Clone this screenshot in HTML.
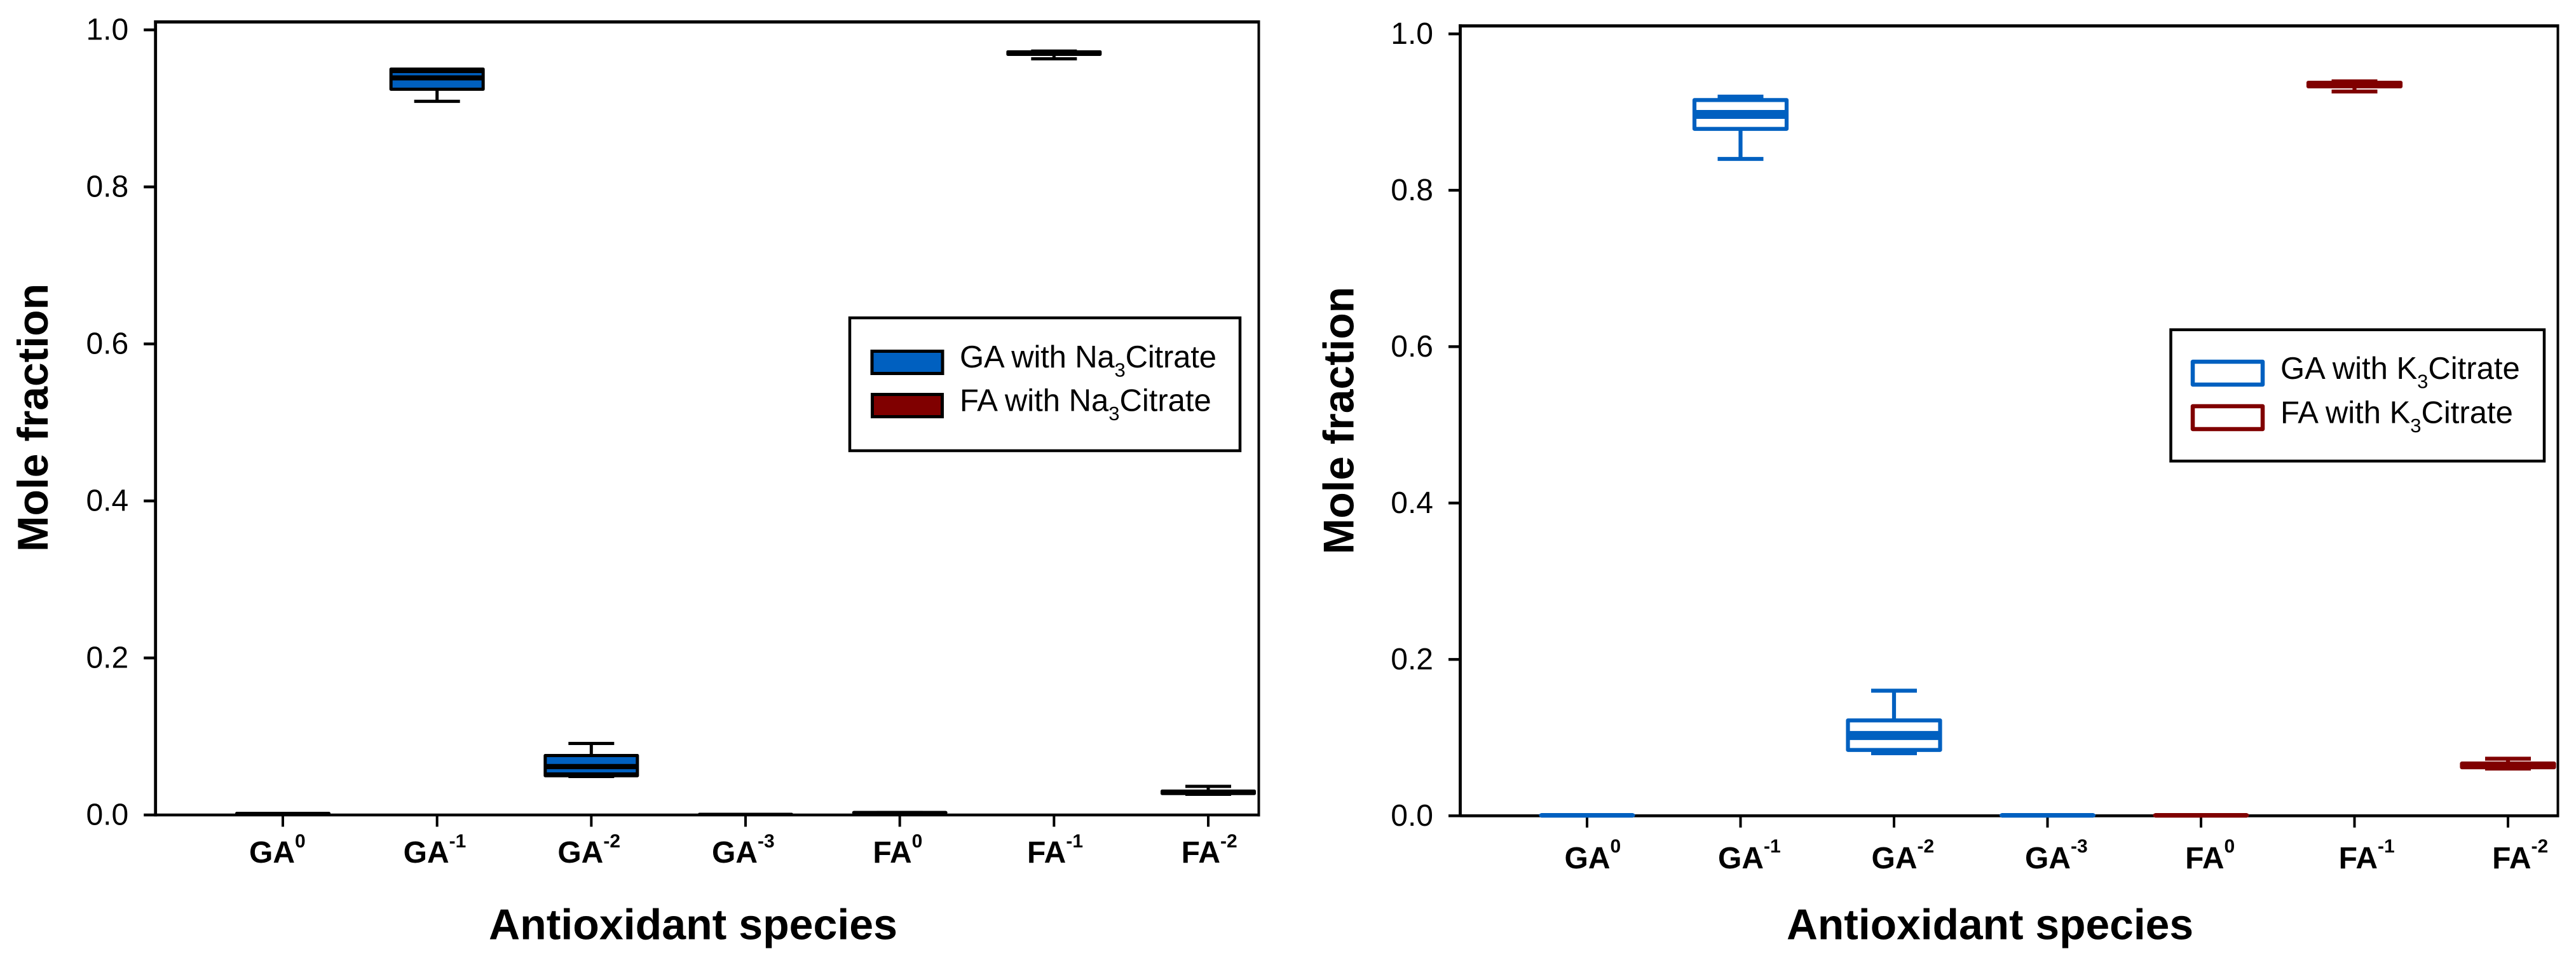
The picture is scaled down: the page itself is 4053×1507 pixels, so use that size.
<!DOCTYPE html>
<html lang="en">
<head>
<meta charset="utf-8">
<title>Mole fraction of antioxidant species</title>
<style>
html,body{margin:0;padding:0;background:#fff;}
svg{display:block;font-family:"Liberation Sans",Arial,sans-serif;}
</style>
</head>
<body>
<svg id="figure" xmlns="http://www.w3.org/2000/svg" width="4053" height="1507" viewBox="0 0 4053 1507">
  <rect x="0" y="0" width="4053" height="1507" fill="#fff"/>

  <g id="panel-left"></g>
  <g id="panel-right"></g>

  <text x="769" y="1477.5" font-size="68" font-weight="bold" textLength="643" lengthAdjust="spacingAndGlyphs">Antioxidant species</text>
  <text transform="translate(75,868) rotate(-90)" font-size="68" font-weight="bold" textLength="422" lengthAdjust="spacingAndGlyphs">Mole fraction</text>
  <text x="2811" y="1477.5" font-size="68" font-weight="bold" textLength="640" lengthAdjust="spacingAndGlyphs">Antioxidant species</text>
  <text transform="translate(2129.5,872) rotate(-90)" font-size="68" font-weight="bold" textLength="421" lengthAdjust="spacingAndGlyphs">Mole fraction</text>

  <g>
    <rect x="1337" y="500" width="614" height="209" fill="#fff" stroke="#000" stroke-width="4.5"/>
    <rect x="1372" y="552.5" width="111" height="35" fill="#0060c0" stroke="#000" stroke-width="5"/>
    <text x="1510" y="578" font-size="49" textLength="404">GA with Na<tspan font-size="31" dy="14.7">3</tspan><tspan dy="-14.7">Citrate</tspan></text>
    <rect x="1372.5" y="620.5" width="110" height="35" fill="#800000" stroke="#000" stroke-width="5"/>
    <text x="1510" y="646.5" font-size="49">FA with Na<tspan font-size="31" dy="14.7">3</tspan><tspan dy="-14.7">Citrate</tspan></text>
  </g>

  <g>
    <rect x="3415.5" y="518.7" width="587.5" height="206.6" fill="#fff" stroke="#000" stroke-width="4.5"/>
    <rect x="3450" y="569" width="110" height="36" fill="none" stroke="#0060c0" stroke-width="6.5" stroke-linejoin="round"/>
    <text x="3588" y="596" font-size="49">GA with K<tspan font-size="31" dy="14.7">3</tspan><tspan dy="-14.7">Citrate</tspan></text>
    <rect x="3450" y="639" width="110" height="36" fill="none" stroke="#800000" stroke-width="6.5" stroke-linejoin="round"/>
    <text x="3588" y="665.5" font-size="49">FA with K<tspan font-size="31" dy="14.7">3</tspan><tspan dy="-14.7">Citrate</tspan></text>
  </g>
</svg>

<script>
/* Shared categories and axis ticks */
var categoryBases = ['GA', 'GA', 'GA', 'GA', 'FA', 'FA', 'FA'];
var categorySupers = ['0', '-1', '-2', '-3', '0', '-1', '-2'];
var yTicks = [0, 0.2, 0.4, 0.6, 0.8, 1.0];

/* Left panel: species with Na3Citrate (mole fraction values) */
var sodiumQ1 = [0.002, 0.9244, 0.050, 0.0008, 0.003, 0.9688, 0.0273];
var sodiumQ3 = [0.002, 0.950, 0.0757, 0.0008, 0.003, 0.972, 0.0304];
var sodiumMedian = [0.002, 0.9401, 0.063, 0.0008, 0.003, 0.971, 0.0295];
var sodiumMean = [0.002, 0.9377, 0.0603, 0.0008, 0.003, 0.9698, 0.0285];
var sodiumPercentile = [null, 0.947, 0.0522, null, null, null, null];
var sodiumLow = [0.002, 0.909, 0.049, 0.0008, 0.003, 0.9632, 0.0263];
var sodiumHigh = [0.002, 0.947, 0.0911, 0.0008, 0.003, 0.973, 0.0364];

/* Right panel: species with K3Citrate (mole fraction values) */
var potassiumQ1 = [0.0006, 0.8785, 0.0842, 0.0006, 0.0006, 0.9328, 0.062];
var potassiumQ3 = [0.0006, 0.9154, 0.122, 0.0006, 0.0006, 0.9376, 0.0669];
var potassiumMedian = [0.0006, 0.8998, 0.1055, 0.0006, 0.0006, 0.9362, 0.0655];
var potassiumMean = [0.0006, 0.8942, 0.0998, 0.0006, 0.0006, 0.9342, 0.0635];
var potassiumPercentile = [null, null, null, null, null, null, null];
var potassiumLow = [0.0006, 0.8401, 0.080, 0.0006, 0.0006, 0.9263, 0.0604];
var potassiumHigh = [0.0006, 0.9198, 0.160, 0.0006, 0.0006, 0.9393, 0.073];

var SVG_NS = 'http://www.w3.org/2000/svg';
var BLUE = '#0060c0';
var MAROON = '#800000';

function shape(parent, tag, attrs) {
  var el = document.createElementNS(SVG_NS, tag);
  for (var key in attrs) {
    el.setAttribute(key, attrs[key]);
  }
  parent.appendChild(el);
  return el;
}

function hLine(parent, x1, x2, y, color, width) {
  return shape(parent, 'line', {x1: x1, x2: x2, y1: y, y2: y, stroke: color, 'stroke-width': width});
}

function vLine(parent, x, y1, y2, color, width) {
  return shape(parent, 'line', {x1: x, x2: x, y1: y1, y2: y2, stroke: color, 'stroke-width': width});
}

function drawPanel(root, geom, series) {
  function xScale(i) { return geom.firstTick + i * geom.tickStep; }
  function yScale(v) { return geom.zeroY - v * geom.unitPx; }

  /* frame */
  var frameTop = hLine(root, geom.left - 2.3, geom.right + 2, geom.top, '#000', 5);
  
  
  var frameRight = vLine(root, geom.right, geom.top, geom.zeroY + 2.2, '#000', 4);
  
  
  var yAxis = vLine(root, geom.left, geom.top - 2.5, geom.zeroY + 2.2, '#000', 4.8);
  
  
  var xAxis = hLine(root, geom.left, geom.right + 2, geom.zeroY, '#000', 4.6);
  
  

  /* y axis ticks and labels */
  yTicks.forEach(function (value) {
    var y = yScale(value);
    var tick = hLine(root, geom.left - 18.5, geom.left, y, '#000', 4.4);
    
    
    var label = shape(root, 'text', {x: geom.left - 42.5, y: y + 15.5, 'text-anchor': 'end', 'font-size': 48});
    
    
    label.textContent = value.toFixed(1);
  });

  /* x axis ticks and labels */
  categoryBases.forEach(function (base, i) {
    var x = xScale(i);
    var tick = vLine(root, x, geom.zeroY + 2, geom.zeroY + 18.5, '#000', 4);
    
    
    var label = shape(root, 'text', {x: x + geom.labelShift, y: geom.labelY, 'text-anchor': 'end', 'font-size': 48, 'font-weight': 'bold'});
    
    
    label.textContent = base;
    var sup = shape(root, 'text', {x: x + geom.labelShift, y: geom.supY, 'font-size': 30, 'font-weight': 'bold'});
    
    
    sup.textContent = categorySupers[i];
  });

  /* box plots */
  categoryBases.forEach(function (base, i) {
    var seriesColor = base === 'GA' ? BLUE : MAROON;
    var lineColor = geom.filled ? '#000' : seriesColor;
    var fill = geom.filled ? seriesColor : 'none';
    var x = xScale(i);
    var x0 = x - geom.boxHalf;
    var x1 = x + geom.boxHalf;
    var yQ1 = yScale(series.q1[i]);
    var yQ3 = yScale(series.q3[i]);
    var yLow = yScale(series.low[i]);
    var yHigh = yScale(series.high[i]);

    var group = shape(root, 'g', {});
    
    

    /* whisker stems run only outside the box */
    if (yHigh < yQ3) {
      var stemHigh = vLine(group, x, yHigh, yQ3, lineColor, geom.stroke);
      
      
    }
    if (yLow > yQ1) {
      var stemLow = vLine(group, x, yQ1, yLow, lineColor, geom.stroke);
      
      
    }

    var box = shape(group, 'path', {
      d: 'M' + x0 + ' ' + yQ3 + 'H' + x1 + 'V' + yQ1 + 'H' + x0 + 'Z',
      fill: fill,
      stroke: lineColor,
      'stroke-width': geom.stroke,
      'stroke-linejoin': 'round'
    });
    
    

    var median = hLine(group, x0, x1, yScale(series.median[i]), lineColor, geom.bandStroke);
    
    
    var mean = hLine(group, x0, x1, yScale(series.mean[i]), lineColor, geom.bandStroke);
    
    

    if (series.percentile[i] !== null) {
      var pct = hLine(group, x0, x1, yScale(series.percentile[i]), lineColor, geom.stroke);
      
      
    }

    var capHigh = hLine(group, x - geom.capHalf, x + geom.capHalf, yHigh, lineColor, geom.stroke);
    
    
    var capLow = hLine(group, x - geom.capHalf, x + geom.capHalf, yLow, lineColor, geom.stroke);
    
    
  });
}

drawPanel(document.getElementById('panel-left'), {
  left: 244.7, right: 1980.5, top: 34.5, zeroY: 1282, unitPx: 1235,
  firstTick: 445, tickStep: 242.67, boxHalf: 72.5, capHalf: 36, stroke: 5, bandStroke: 5,
  labelShift: 19, labelY: 1357, supY: 1333, filled: true
}, {
  q1: sodiumQ1, q3: sodiumQ3, median: sodiumMedian, mean: sodiumMean,
  percentile: sodiumPercentile, low: sodiumLow, high: sodiumHigh
});

drawPanel(document.getElementById('panel-right'), {
  left: 2297.5, right: 4024.5, top: 40.7, zeroY: 1283.3, unitPx: 1230,
  firstTick: 2497, tickStep: 241.5, boxHalf: 72.5, capHalf: 36, stroke: 6.2, bandStroke: 7.2,
  labelShift: 36.5, labelY: 1366, supY: 1341, filled: false
}, {
  q1: potassiumQ1, q3: potassiumQ3, median: potassiumMedian, mean: potassiumMean,
  percentile: potassiumPercentile, low: potassiumLow, high: potassiumHigh
});
</script>
</body>
</html>
